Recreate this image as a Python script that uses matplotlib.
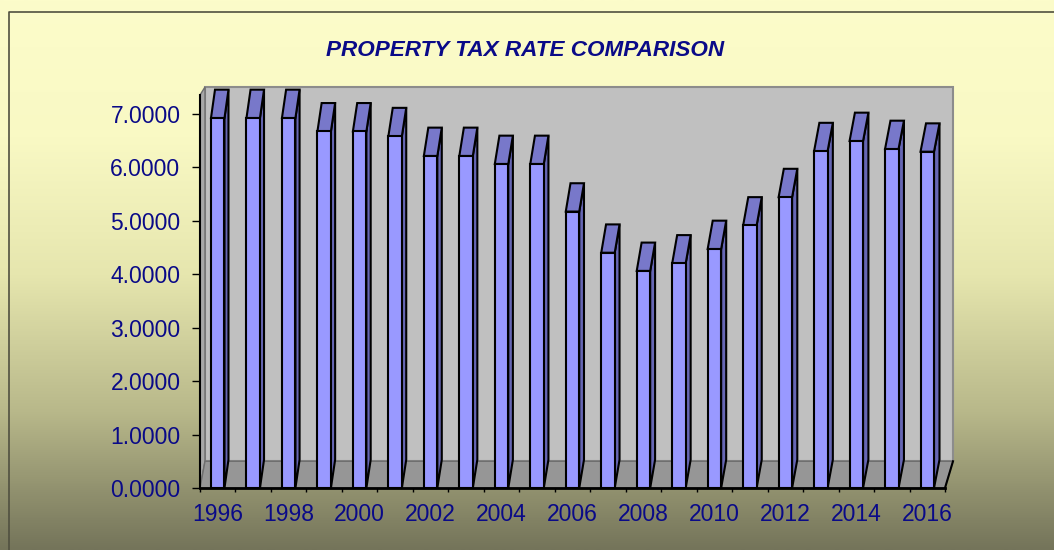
import numpy as np
import matplotlib.pyplot as plt
from matplotlib.patches import Polygon
from matplotlib.colors import LinearSegmentedColormap

years = list(range(1996, 2017))
rates = [6.92, 6.92, 6.92, 6.67, 6.67, 6.58, 6.21, 6.21, 6.06, 6.06, 5.17,
         4.40, 4.06, 4.20, 4.47, 4.91, 5.44, 6.30, 6.49, 6.34, 6.29]
y_ticks = [0, 1, 2, 3, 4, 5, 6, 7]
y_labels = ['%.4f' % t for t in y_ticks]
x_labels = [str(y) if y % 2 == 0 else '' for y in years]
title = 'PROPERTY TAX RATE COMPARISON'

navy = '#0A0A88'
font = 'Liberation Sans'

fig = plt.figure(figsize=(10.54, 5.5), dpi=100)

# gradient background of the chart area
bg = fig.add_axes([0, 0, 1, 1])
bg_cmap = LinearSegmentedColormap.from_list(
    'bg', [(0, '#FCFCCA'), (0.25, '#F9F9C4'), (0.5, '#E6E6AE'),
           (0.75, '#B8B88A'), (1, '#74745A')])
grad = np.linspace(0, 1, 256).reshape(-1, 1)
bg.imshow(grad, aspect='auto', cmap=bg_cmap, extent=[0, 1, 0, 1], origin='upper')
bg.set_xlim(0, 1)
bg.set_ylim(0, 1)
bg.axis('off')
bg.plot([9 / 1054, 9 / 1054, 1], [0, 1 - 12 / 550, 1 - 12 / 550],
        color='#505040', lw=1.2)

fig.text(525 / 1054, 1 - 55.5 / 550, title, ha='center', va='baseline',
         fontsize=16.2, fontweight='bold', fontstyle='italic', color=navy,
         family=font)

# main plot, front face coordinates
ax = fig.add_axes([200 / 1054, 62 / 550, 745 / 1054, 401 / 550])
ax.set_facecolor('none')
n = len(years)
ax.set_xlim(-0.5, n - 0.5)
ax.set_ylim(0, 7.5)

px_x = 745 / n
px_y = 401 / 7.5
depth = 0.5


def wall_dx(x):
    # slight perspective: walls shift further right toward the right side
    return (5 + 3 * (x + 0.5) / n) / px_x


xl, xr = -0.5, n - 0.5
dl, dr = wall_dx(xl), wall_dx(xr)

back = Polygon([(xl + dl, depth), (xr + dr, depth), (xr + dr, 7 + depth),
                (xl + dl, 7 + depth)], closed=True, fc='#C0C0C0',
               ec='#8C8C8C', lw=1.5, clip_on=False, zorder=1)
floor = Polygon([(xl, 0), (xr, 0), (xr + dr, depth), (xl + dl, depth)],
                closed=True, fc='#969696', ec='#6E6E6E', lw=1,
                clip_on=False, zorder=1.5)
left_wall = Polygon([(xl, 0), (xl + dl, depth), (xl + dl, 7 + depth),
                     (xl, 7.35)], closed=True, fc='#A8A8A8', ec='#6E6E6E',
                    lw=1, clip_on=False, zorder=1.4)
ax.add_patch(back)
ax.add_patch(floor)
ax.add_patch(left_wall)
ax.plot([xr, xr + dr], [0, depth], color='black', lw=1.5, clip_on=False,
        zorder=4)

# 3d bars: top and side faces, then the front face
half = 0.19
bar_depth = 0.53
x = np.arange(n)
for i, v in enumerate(rates):
    bdx = (4 + 1.5 * i / (n - 1)) / px_x
    x0, x1 = i - half, i + half
    side = Polygon([(x1, 0), (x1 + bdx, bar_depth), (x1 + bdx, v + bar_depth),
                    (x1, v)], closed=True, fc='#6666B4', ec='black', lw=1.5,
                   zorder=2.5, clip_on=False)
    top = Polygon([(x0, v), (x1, v), (x1 + bdx, v + bar_depth),
                   (x0 + bdx, v + bar_depth)], closed=True, fc='#7878CA',
                  ec='black', lw=1.5, zorder=2.6, clip_on=False)
    ax.add_patch(side)
    ax.add_patch(top)
ax.bar(x, rates, width=2 * half, color='#9999FF', edgecolor='black',
       linewidth=1.5, zorder=3)

for s in ['top', 'right']:
    ax.spines[s].set_visible(False)
ax.spines['bottom'].set_linewidth(2)
ax.spines['bottom'].set_zorder(4)
ax.spines['left'].set_linewidth(1.5)
ax.spines['left'].set_bounds(0, 7.35)

ax.set_yticks(y_ticks)
ax.set_yticklabels(y_labels, fontsize=16.5, color=navy, family=font)
ax.tick_params(axis='y', length=5.5, width=1, color='black', pad=8.6,
               direction='out')

ax.set_xticks(x)
ax.set_xticklabels(x_labels, fontsize=16.5, color=navy, family=font)
ax.set_xticks(np.arange(-0.5, n, 1), minor=True)
ax.tick_params(axis='x', which='major', length=0, pad=11)
ax.tick_params(axis='x', which='minor', length=3, width=1, color='black',
               direction='out')

fig.savefig('out.png', dpi=100)
